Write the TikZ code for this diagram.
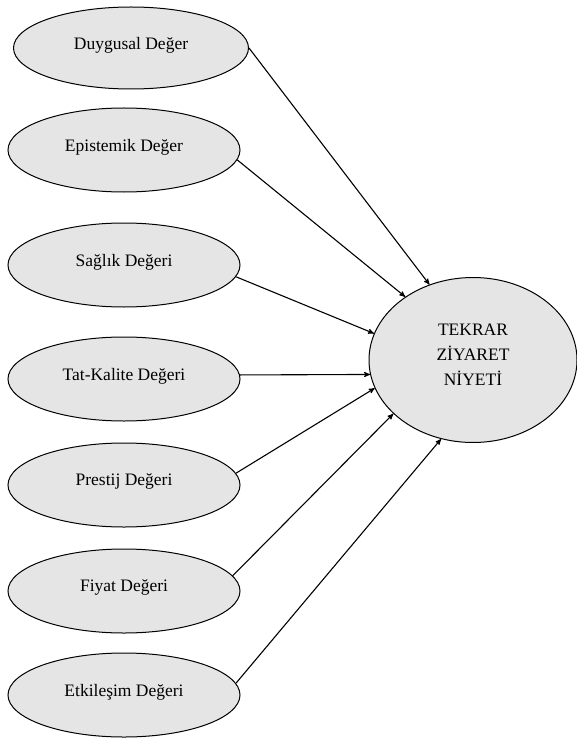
\documentclass[tikz,border=0pt]{standalone}
\usepackage{fontspec}
\setmainfont{Liberation Serif}
\usepackage{tikz}
\usetikzlibrary{arrows}
\usetikzlibrary{shapes}
\tikzset{
  value/.style={
    ellipse, draw, fill=black!10, line width=1pt,
    minimum width=232pt, minimum height=84pt, inner sep=0,
    text depth=10pt,
    font=\fontsize{17.5}{25}\selectfont
  },
  target/.style={
    value, minimum width=208pt, minimum height=165pt, align=center
  },
  arrow/.style={->,>=stealth', line width=1.1pt}
}

\begin{document}
\begin{tikzpicture}[x=1pt, y=-1pt]
      \useasboundingbox (0,0) rectangle (577,738);

      \node [value, minimum width=235pt, minimum height=82pt] (duygusal) at (131,48) {Duygusal Değer};
      \node [value] (epistemik) at (124,150) {Epistemik Değer};
      \node [value] (saglik) at (124,265) {Sağlık Değeri};
      \node [value] (tatkalite) at (124,379) {Tat-Kalite Değeri};
      \node [value] (prestij) at (124,485) {Prestij Değeri};
      \node [value] (fiyat) at (124,591) {Fiyat Değeri};
      \node [value] (etkilesim) at (124,695) {Etkileşim Değeri};

      \node [target] (niyet) at (473,360) {TEKRAR\\ZİYARET\\NİYETİ};

      \draw [arrow] (duygusal.east) -- (niyet.120);
      \draw [arrow] (epistemik.-5) -- (niyet.137);
      \draw [arrow] (saglik.-6) -- (niyet.165);
      \draw [arrow] (tatkalite.2) -- (niyet.188.7);
      \draw [arrow] (prestij.6) -- (niyet.196);
      \draw [arrow] (fiyat.8) -- (niyet.214);
      \draw [arrow] (etkilesim.6) -- (niyet.248);
    \end{tikzpicture}
\end{document}
